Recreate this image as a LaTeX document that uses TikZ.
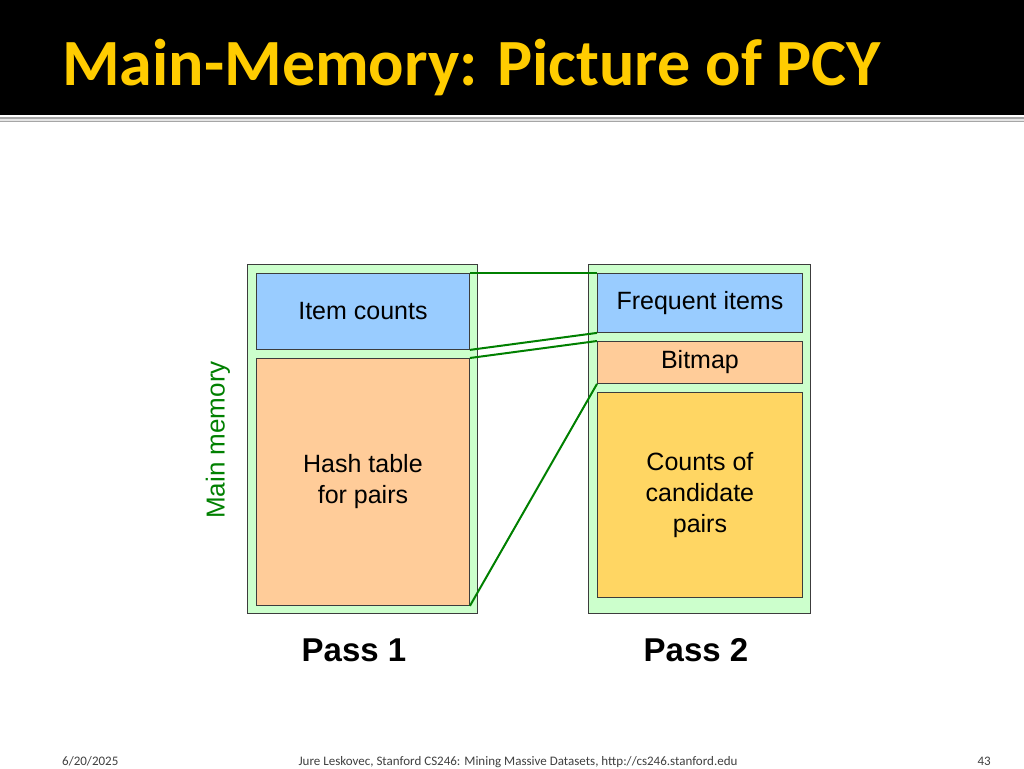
\documentclass[tikz,border=0pt]{standalone}
\usepackage{fontspec}
\setmainfont{Liberation Sans}
\newfontfamily\titlefont{Carlito}
\usetikzlibrary{positioning}

\definecolor{titleyellow}{RGB}{255,204,0}
\definecolor{memgreen}{RGB}{204,255,204}
\definecolor{itemblue}{RGB}{153,204,255}
\definecolor{hashpeach}{RGB}{255,204,153}
\definecolor{candyellow}{RGB}{255,214,99}
\definecolor{linkgreen}{RGB}{0,128,0}
\definecolor{edgegray}{RGB}{60,60,60}

\tikzset{
  membox/.style={draw=edgegray,fill=memgreen,line width=0.9pt,anchor=north west,inner sep=0pt},
  part/.style={draw=edgegray,line width=0.9pt,anchor=north west,inner sep=0pt,
    align=center,font=\fontsize{25}{31}\selectfont},
  link/.style={draw=linkgreen,line width=2pt},
  passlabel/.style={font=\fontsize{33}{38}\selectfont\bfseries},
  foot/.style={font=\titlefont\fontsize{13}{15}\selectfont,text=black!75,inner sep=0pt}
}

\begin{document}
\begin{tikzpicture}[x=1pt,y=-1pt]
\useasboundingbox (0,0) rectangle (1024,768);
\fill[white] (0,0) rectangle (1024,768);

% title bar
\fill[black] (0,0) rectangle (1024,115);
\fill[black!35] (0,117) rectangle (1024,122);
\fill[black!10] (0,118.5) rectangle (1024,120.5);
\node (title) [anchor=base west,inner sep=0pt,text=titleyellow,
  font=\titlefont\fontsize{66}{70}\selectfont\bfseries] at (62,85) {Main-Memory: Picture of PCY};

% pass 1
\node (mem1) [membox,minimum width=230pt,minimum height=349pt] at (247,264) {};
\node (items) [part,fill=itemblue,minimum width=213pt,minimum height=76pt] at (256,273) {Item counts};
\node (hash) [part,fill=hashpeach,minimum width=213pt,minimum height=247pt] at (256,358) {Hash table\\for pairs};

% pass 2
\node (mem2) [membox,minimum width=222pt,minimum height=349pt] at (588,264) {};
\node (freq) [part,fill=itemblue,minimum width=205pt,minimum height=59pt] at (597,273) {Frequent items};
\node (bitmap) [part,fill=hashpeach,minimum width=205pt,minimum height=42pt] at (597,341) {Bitmap};
\node (cand) [part,fill=candyellow,minimum width=205pt,minimum height=205pt] at (597,392) {Counts of\\candidate\\pairs};

% links between passes
\draw[link] (items.north east) -- (freq.north west);
\draw[link] (items.south east) -- (freq.south west);
\draw[link] (hash.north east) -- (bitmap.north west);
\draw[link] (hash.south east) -- (bitmap.south west);

\node (mainmem) [rotate=90,text=linkgreen,font=\fontsize{26}{30}\selectfont] at (218,440) {Main memory};

\node (pass1) [passlabel] at (354,650) {Pass 1};
\node (pass2) [passlabel] at (696,650) {Pass 2};

% footer
\node (date) [foot,anchor=base west] at (62,765) {6/20/2025};
\node (credit) [foot,anchor=base] at (518,765) {Jure Leskovec, Stanford CS246: Mining Massive Datasets, http://cs246.stanford.edu};
\node (page) [foot,anchor=base east] at (991,765) {43};
\end{tikzpicture}
\end{document}
